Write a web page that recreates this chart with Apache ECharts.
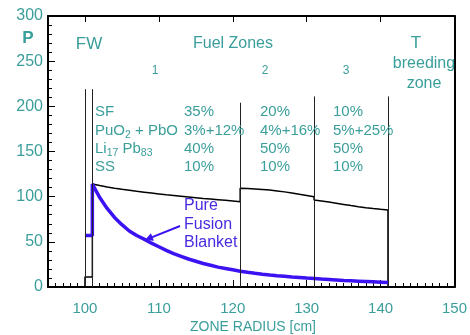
<!DOCTYPE html>
<html>
<head>
<meta charset="utf-8">
<script src="https://cdn.jsdelivr.net/npm/echarts@6/dist/echarts.min.js"></script>
<style>
html,body{margin:0;padding:0;background:#fff;}
#chart{width:470px;height:335px;}
</style>
</head>
<body>
<div id="chart"></div>
<script>
// ---- data ----
const xTickLabels = [100, 110, 120, 130, 140, 150];
const yTickLabels = [0, 50, 100, 150, 200, 250, 300];
const fwBlack = 11;      // first wall, thermal fission case
const fwBlue = 57;       // first wall, pure fusion blanket
const zone1X = [101,102,103,104,105,106,107,108,109,110,111,112,113,114,115,116,117,118,119,120,121];
const zone1P = [114,112.3,110.8,109.4,108.2,107.1,106,105,104,103,102,101.2,100.4,99.6,98.8,98,97.3,96.6,95.9,95.2,94.5];
const zone2X = [121,122,123,124,125,126,127,128,129,130,131];
const zone2P = [109.3,109,108.6,108,107.3,106.4,105.3,104.1,102.8,101.4,100];
const zone3X = [131,132,133,134,135,136,137,138,139,140,141];
const zone3P = [96.3,95.2,94,92.7,91.4,90.1,88.9,87.8,86.8,86,85.3];
const pureX = [101,102,103,104,105,106,107,108,109,110,111,112,113,114,115,116,117,118,119,120,121,122,123,124,125,126,127,128,129,130,131,132,133,134,135,136,137,138,139,140,141];
const pureP = [114,99,87,77,69,62,57,53,48.5,44.5,40.5,37,34,31,28.5,26,24,22,20.5,19,17.5,16.3,15.2,14.2,13.3,12.5,11.8,11.1,10.5,9.9,9.4,8.8,8.3,7.8,7.3,6.9,6.5,6.1,5.7,5.3,4.9];
const boundaryX = [100, 101, 121, 131, 141];
const boundaryTop = [219, 219, 204, 211, 211];
const zoneNames = ['1', '2', '3'];
const components = ['SF', 'PuO{s|2} + PbO', 'Li{s|17} Pb{s|83}', 'SS'];
const zone1Frac = ['35%', '3%+12%', '40%', '10%'];
const zone2Frac = ['20%', '4%+16%', '50%', '10%'];
const zone3Frac = ['10%', '5%+25%', '50%', '10%'];

// ---- build series data ----
const blackData = [[100, 0], [100, fwBlack], [101, fwBlack]];
zone1X.forEach((x, i) => blackData.push([x, zone1P[i]]));
zone2X.forEach((x, i) => blackData.push([x, zone2P[i]]));
zone3X.forEach((x, i) => blackData.push([x, zone3P[i]]));
blackData.push([141, 0]);

const blueData = [[100, fwBlue], [101, fwBlue]];
pureX.forEach((x, i) => blueData.push([x, pureP[i]]));

const boundaryLines = boundaryX.map((x, i) => [{coord: [x, 0]}, {coord: [x, boundaryTop[i]]}]);

const TEAL = '#3a9e9b';
const BLUE_LINE = '#3c12f2';
const BLUE_TEXT = '#4a2ae0';
const FONT = '"Liberation Sans", Arial, sans-serif';

const chart = echarts.init(document.getElementById('chart'), null, {renderer: 'canvas'});

function txt(text, x, y, opts) {
  return {
    type: 'text', silent: true, z: 100,
    style: Object.assign({
      text: text, x: x, y: y, fill: TEAL, fontSize: 16, fontFamily: FONT,
      textAlign: 'left', textVerticalAlign: 'middle'
    }, opts || {})
  };
}

const graphics = [];
graphics.push(txt('P', 28, 38, {textAlign: 'center', fontSize: 17, fontWeight: 'bold'}));
graphics.push(txt('FW', 89, 44, {textAlign: 'center', fontSize: 17}));
graphics.push(txt('Fuel Zones', 233, 44, {textAlign: 'center', fontSize: 16}));
graphics.push(txt('T', 416, 43, {textAlign: 'center', fontSize: 17}));
graphics.push(txt('breeding', 424, 64, {textAlign: 'center', fontSize: 16}));
graphics.push(txt('zone', 424, 84, {textAlign: 'center', fontSize: 16}));
const zoneNameX = [155, 265, 346];
zoneNames.forEach((n, i) => graphics.push(txt(n, zoneNameX[i], 71, {textAlign: 'center', fontSize: 12})));
const rowY = [112, 131, 149, 167];
const richSub = {s: {fontSize: 10.5, fill: TEAL, fontFamily: FONT, verticalAlign: 'bottom', lineHeight: 11}};
components.forEach((c, i) => graphics.push(txt(c, 95, rowY[i], {rich: richSub, lineHeight: 19, fontSize: 15})));
zone1Frac.forEach((c, i) => graphics.push(txt(c, 184, rowY[i], {fontSize: 15})));
zone2Frac.forEach((c, i) => graphics.push(txt(c, 260, rowY[i], {fontSize: 15})));
zone3Frac.forEach((c, i) => graphics.push(txt(c, 333, rowY[i], {fontSize: 15})));
graphics.push(txt('Pure', 184, 206, {fill: BLUE_TEXT}));
graphics.push(txt('Fusion', 184, 225, {fill: BLUE_TEXT}));
graphics.push(txt('Blanket', 184, 243, {fill: BLUE_TEXT}));
graphics.push(txt('ZONE RADIUS [cm]', 253, 327, {textAlign: 'center', fontSize: 14}));
graphics.push({type: 'line', silent: true, z: 100,
  shape: {x1: 180, y1: 226, x2: 151, y2: 237.6},
  style: {stroke: BLUE_LINE, lineWidth: 2}});
graphics.push({type: 'polygon', silent: true, z: 100,
  shape: {points: [[145, 240], [153.9, 240.7], [150.9, 233.3]]},
  style: {fill: BLUE_LINE}});

const option = {
  animation: false,
  backgroundColor: '#fff',
  grid: {left: 48, right: 9, top: 16, bottom: 48, containLabel: false},
  xAxis: [
    {
      type: 'value', min: 95, max: 150, interval: 1, position: 'bottom',
      axisLine: {show: true, onZero: false, lineStyle: {color: '#000', width: 2}},
      axisTick: {show: true, inside: true, length: 4, lineStyle: {color: '#000', width: 1}},
      axisLabel: {
        color: TEAL, fontSize: 15, fontFamily: FONT, margin: 14,
        formatter: v => (xTickLabels.indexOf(v) >= 0 ? String(v) : '')
      },
      splitLine: {show: false}
    },
    {
      type: 'value', min: 95, max: 150, position: 'bottom',
      axisLine: {show: false, onZero: false},
      axisTick: {show: true, inside: true, length: 7, customValues: [100, 110, 120, 130, 140], lineStyle: {color: '#000', width: 1}},
      axisLabel: {show: false},
      splitLine: {show: false}
    },
    {
      type: 'value', min: 95, max: 150, position: 'top',
      axisLine: {show: true, onZero: false, lineStyle: {color: '#000', width: 2}},
      axisTick: {show: true, inside: true, length: 6, customValues: [100, 110, 120, 130, 140], lineStyle: {color: '#000', width: 1}},
      axisLabel: {show: false},
      splitLine: {show: false}
    }
  ],
  yAxis: [
    {
      type: 'value', min: 0, max: 300, interval: 10, position: 'left',
      axisLine: {show: true, onZero: false, lineStyle: {color: '#000', width: 2}},
      axisTick: {show: true, inside: true, length: 4, lineStyle: {color: '#000', width: 1}},
      axisLabel: {
        color: TEAL, fontSize: 16, fontFamily: FONT, margin: 5,
        formatter: v => (yTickLabels.indexOf(v) >= 0 ? String(v) : '')
      },
      splitLine: {show: false}
    },
    {
      type: 'value', min: 0, max: 300, position: 'left',
      axisLine: {show: false, onZero: false},
      axisTick: {show: true, inside: true, length: 7, customValues: [50, 100, 150, 200, 250], lineStyle: {color: '#000', width: 1}},
      axisLabel: {show: false},
      splitLine: {show: false}
    },
    {
      type: 'value', min: 0, max: 300, position: 'right',
      axisLine: {show: true, onZero: false, lineStyle: {color: '#000', width: 2}},
      axisTick: {show: false},
      axisLabel: {show: false},
      splitLine: {show: false}
    }
  ],
  series: [
    {
      name: 'boundaries', type: 'line', xAxisIndex: 0, yAxisIndex: 0,
      data: [], silent: true,
      markLine: {
        silent: true, symbol: ['none', 'none'], animation: false,
        label: {show: false},
        lineStyle: {color: '#222', width: 1, type: 'solid'},
        emphasis: {disabled: true},
        data: boundaryLines
      }
    },
    {
      name: 'Thermal fission', type: 'line', xAxisIndex: 0, yAxisIndex: 0,
      data: blackData, showSymbol: false, silent: true,
      lineStyle: {color: '#000', width: 1.5}, z: 3
    },
    {
      name: 'Pure Fusion Blanket', type: 'line', xAxisIndex: 0, yAxisIndex: 0,
      data: blueData, showSymbol: false, silent: true, smooth: false,
      lineStyle: {color: BLUE_LINE, width: 3.5}, z: 4
    }
  ],
  graphic: graphics
};
chart.setOption(option);
</script>
</body>
</html>
